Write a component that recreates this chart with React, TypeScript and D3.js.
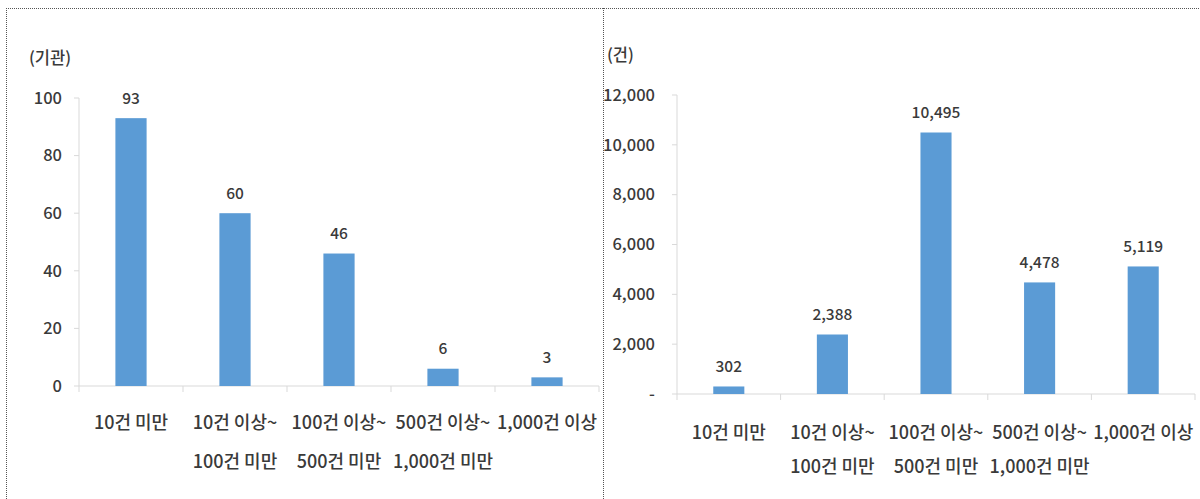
import React from "react";
import * as d3 from "d3";

const categories = ["10건 미만", "10건 이상~|100건 미만", "100건 이상~|500건 미만", "500건 이상~|1,000건 미만", "1,000건 이상"];
const institutionCounts = [93, 60, 46, 6, 3];
const caseCounts = [302, 2388, 10495, 4478, 5119];
const leftTicks = [0, 20, 40, 60, 80, 100];
const rightTicks = [0, 2000, 4000, 6000, 8000, 10000, 12000];
const leftUnit = "(기관)";
const rightUnit = "(건)";

const FONT = "'Noto Sans CJK KR', 'Noto Sans', sans-serif";
const TEXT = "#3a3a3a";
const BAR = "#5b9bd5";

type PanelProps = {
  values: number[];
  ticks: number[];
  unit: string;
  x0: number;
  x1: number;
  yTop: number;
  yBottom: number;
  unitX: number;
  unitY: number;
  tickGap: number;
  tickFmt: (v: number) => string;
  labelFmt: (v: number) => string;
  line1Y: number;
  line2Y: number;
};

function Panel(p: PanelProps) {
  const x = d3.scaleBand<string>().domain(categories).range([p.x0, p.x1]).paddingInner(0.7).paddingOuter(0.35);
  const y = d3.scaleLinear().domain([0, p.ticks[p.ticks.length - 1]]).range([p.yBottom, p.yTop]);
  const bounds = d3.range(categories.length + 1).map((i) => p.x0 + (i * (p.x1 - p.x0)) / categories.length);
  return (
    <g fontFamily={FONT} fill={TEXT}>
      <text x={p.unitX} y={p.unitY} fontSize={16.5} fontWeight={500}>{p.unit}</text>
      <line x1={p.x0} x2={p.x0} y1={y(p.ticks[p.ticks.length - 1])} y2={p.yBottom} stroke="#d9d9d9" />
      {p.ticks.map((t) => (
        <g key={t}>
          <line x1={p.x0 - 5} x2={p.x0} y1={y(t)} y2={y(t)} stroke="#d9d9d9" />
          <text x={p.x0 - p.tickGap} y={y(t)} dy="0.35em" textAnchor="end" fontSize={16.5} fontWeight={500}>{p.tickFmt(t)}</text>
        </g>
      ))}
      <line x1={p.x0} x2={p.x1} y1={p.yBottom} y2={p.yBottom} stroke="#d9d9d9" />
      {bounds.map((b, i) => (
        <line key={i} x1={b} x2={b} y1={p.yBottom} y2={p.yBottom + 6} stroke="#d9d9d9" />
      ))}
      {categories.map((c, i) => {
        const bx = x(c)!;
        const v = p.values[i];
        const cx = bx + x.bandwidth() / 2;
        const lines = c.split("|");
        return (
          <g key={c}>
            <rect x={bx} y={y(v)} width={x.bandwidth()} height={p.yBottom - y(v)} fill={BAR} />
            <text x={cx} y={y(v) - 20} dy="0.35em" textAnchor="middle" fontSize={15.5} fontWeight={500}>{p.labelFmt(v)}</text>
            {lines.map((l, j) => (
              <text key={j} x={cx} y={j === 0 ? p.line1Y : p.line2Y} dy="0.35em" textAnchor="middle" fontSize={18} fontWeight={500}>{l}</text>
            ))}
          </g>
        );
      })}
    </g>
  );
}

export default function App() {
  const fmt = d3.format(",");
  return (
    <svg width={1200} height={499} style={{ position: "absolute", left: 0, top: 0, background: "#fff" }}>
      <line x1={6} x2={1200} y1={8.5} y2={8.5} stroke="#555" strokeDasharray="1,1" />
      <line x1={6.5} x2={6.5} y1={8} y2={499} stroke="#555" strokeDasharray="1,1" />
      <line x1={603.5} x2={603.5} y1={8} y2={499} stroke="#555" strokeDasharray="1,1" />
      <Panel
        values={institutionCounts}
        ticks={leftTicks}
        unit={leftUnit}
        x0={79}
        x1={599}
        yTop={98}
        yBottom={386}
        unitX={29}
        unitY={64}
        tickGap={17}
        tickFmt={(v) => String(v)}
        labelFmt={(v) => String(v)}
        line1Y={423}
        line2Y={462}
      />
      <Panel
        values={caseCounts}
        ticks={rightTicks}
        unit={rightUnit}
        x0={677}
        x1={1195}
        yTop={95}
        yBottom={394}
        unitX={607}
        unitY={61}
        tickGap={22}
        tickFmt={(v) => (v === 0 ? "-" : fmt(v))}
        labelFmt={(v) => fmt(v)}
        line1Y={433}
        line2Y={467}
      />
    </svg>
  );
}
